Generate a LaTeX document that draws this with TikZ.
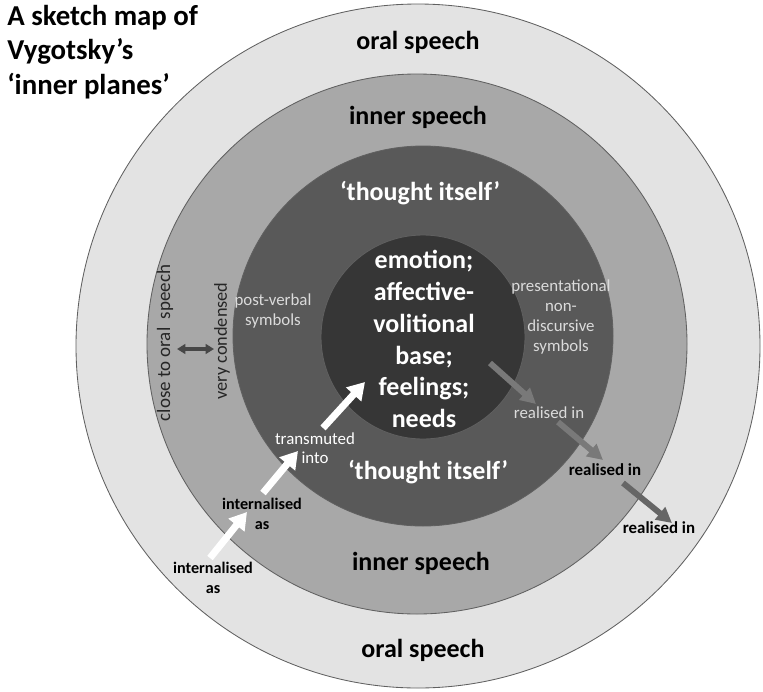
\documentclass[tikz,border=0pt]{standalone}
\usepackage{fontspec}
\setmainfont{Carlito}
\usepackage{tikz}
\usetikzlibrary{arrows.meta,calc}

\definecolor{oral_fill}{gray}{0.89}
\definecolor{inner_fill}{gray}{0.66}
\definecolor{thought_fill}{gray}{0.35}
\definecolor{core_fill}{gray}{0.21}
\definecolor{light_text}{gray}{0.86}

\begin{document}
\begin{tikzpicture}[x = 0.025cm, y = -0.025cm,
text = black, every node/.style = {inner sep = 0pt, align = center}]

\tikzset{
	ring/.style = {draw = gray!75!black, line width = 0.6pt},
	ring_label/.style = {font = \bfseries\fontsize{18.5}{22}\selectfont},
	small_label/.style = {font = \fontsize{12}{13.6}\selectfont},
	white_arrow/.style = {draw = white, line width = 5pt,
		-{Triangle[length = 12pt, width = 14pt]}},
	grey_arrow/.style = {draw = gray!95!black, line width = 4.2pt,
		-{Triangle[length = 11pt, width = 11pt]}}
}

\useasboundingbox (0,0) rectangle (763,691);
\filldraw[ring, fill = oral_fill] (418,346) circle [radius = 342]; % oral speech
\filldraw[ring, fill = inner_fill] (417,344) circle [radius = 270]; % inner speech
\filldraw[ring, fill = thought_fill] (423,336) circle [radius = 190];
\filldraw[ring, fill = core_fill] (423,337) circle [radius = 102];

\node[anchor = north west, align = left, font = \bfseries\fontsize{20.5}{24.5}\selectfont] (T)
	at (7,5) {A sketch map of\\Vygotsky’s\\‘inner planes’};

\node[ring_label] (OS1) at (418,42) {oral speech};
\node[ring_label] (IS1) at (418,117) {inner speech};
\node[ring_label, text = white] (TI1) at (420,193) {‘thought itself’};
\node[ring_label, text = white] (TI2) at (428,472) {‘thought itself’};
\node[ring_label] (IS2) at (421,563) {inner speech};
\node[ring_label] (OS2) at (423,650) {oral speech};
\node[ring_label, text = white, font = \bfseries\fontsize{18.5}{22.7}\selectfont] (EM)
	at (424,339) {emotion;\\affective-\\volitional\\base;\\feelings;\\needs};

\node[small_label, text = light_text] (PV) at (273,311) {post-verbal\\symbols};
\node[small_label, text = light_text, font = \fontsize{12}{14.2}\selectfont] (PN)
	at (561,317) {presentational\\non-\\discursive\\symbols};
\node[small_label, font = \fontsize{13.5}{15}\selectfont, rotate = 90, text = black!85] (CL)
	at (165,343) {close to oral~ speech};
\node[small_label, font = \fontsize{13}{15}\selectfont, rotate = 90, text = black!85] (VC)
	at (222,341) {very condensed};

% flechas blancas
\coordinate (W1a) at (210,558); \coordinate (W1b) at (247,512);
\coordinate (W2a) at (263,493); \coordinate (W2b) at (298,451);
\coordinate (W3a) at (323,428); \coordinate (W3b) at (365,382);
\draw[white_arrow] (W1a) -- (W1b);
\draw[white_arrow] (W2a) -- (W2b);
\draw[white_arrow] (W3a) -- (W3b);

% flechas grises
\coordinate (G1a) at (490,363); \coordinate (G1b) at (536,404);
\coordinate (G2a) at (558,422); \coordinate (G2b) at (603,460);
\coordinate (G3a) at (623,483); \coordinate (G3b) at (672,523);
\draw[grey_arrow] (G1a) -- (G1b);
\draw[grey_arrow] (G2a) -- (G2b);
\draw[grey_arrow, draw = gray!80!black] (G3a) -- (G3b);

\coordinate (DLa) at (177,349); \coordinate (DLb) at (214,349);
\draw[draw = black!72, line width = 2.2pt, {Triangle[length = 6pt, width = 7pt]}-{Triangle[length = 6pt, width = 7pt]}] (DLa) -- (DLb);

\node[small_label, text = white] (TR) at (315,448) {transmuted\\into};
\node[small_label, font = \bfseries\fontsize{11.5}{14.5}\selectfont] (IN2) at (262,514) {internalised\\as};
\node[small_label, font = \bfseries\fontsize{11.5}{14}\selectfont] (IN1) at (213,578) {internalised\\as};
\node[small_label, text = light_text] (RE1) at (549,413) {realised in};
\node[small_label, font = \bfseries\fontsize{12}{14}\selectfont] (RE2) at (605,470) {realised in};
\node[small_label, font = \bfseries\fontsize{12}{14}\selectfont] (RE3) at (659,528) {realised in};
\end{tikzpicture}
\end{document}
